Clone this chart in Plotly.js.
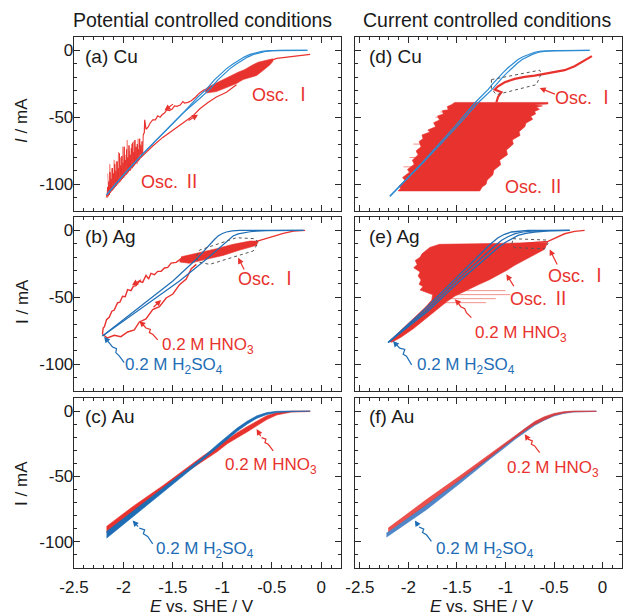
<!DOCTYPE html>
<html><head><meta charset="utf-8">
<script src="https://cdn.plot.ly/plotly-3.0.1.min.js"></script>
<style>html,body{margin:0;padding:0;background:#fff;}</style>
</head><body>
<div id="chart" style="width:624px;height:616px;"></div>
<script>
// ---------- Panel (a) Cu, potential controlled ----------
const aBlueFwdX = [-0.14,-0.40,-0.52,-0.60,-0.66,-0.72,-0.78,-0.84,-0.90,-0.96,-1.02,-1.08,-1.16,-1.25,-1.40,-1.60,-1.80,-2.00,-2.17];
const aBlueFwdY = [0,0,-0.2,-0.7,-1.6,-3,-5,-7.5,-10.5,-13.8,-17.6,-22,-29,-35,-47,-62,-77,-93,-108];
const aBlueRevX = [-2.17,-2.00,-1.80,-1.60,-1.40,-1.215,-1.125,-1.045,-0.985,-0.925,-0.865,-0.805,-0.745,-0.685,-0.625,-0.565,-0.485,-0.40,-0.14];
const aBlueRevY = [-108,-93,-77,-62,-47,-35,-29,-22,-17.6,-13.8,-10.5,-7.5,-5,-3,-1.6,-0.7,-0.2,0,0];
const aRedStartX = [-0.112,-0.315,-0.450,-0.501];
const aRedStartY = [-3.0,-4.8,-6.0,-7.3];
const aOsc1X = [-0.491,-0.569,-0.637,-0.704,-0.772,-0.840,-0.908,-0.976,-1.044,-1.128,-1.179,-1.162,-1.060,-0.993,-0.925,-0.857,-0.790,-0.722,-0.653,-0.585,-0.518,-0.485];
const aOsc1Y = [-6.3,-7.8,-8.8,-11.3,-14.3,-16.3,-18.8,-20.8,-23.3,-26.8,-29.3,-31.8,-30.8,-28.8,-27.3,-24.8,-21.8,-20.3,-18.8,-14.8,-10.8,-7.8];
const aRedCathX = [-1.179,-1.230,-1.270,-1.314,-1.348,-1.382,-1.399,-1.426,-1.460,-1.484,-1.507,-1.535,-1.562,-1.585,-1.609,-1.629,-1.653,-1.677,-1.704,-1.731,-1.751,-1.772,-1.785,-1.789,-1.800];
const aRedCathY = [-29.3,-31.8,-34.8,-37.6,-38.8,-39.3,-38.3,-40.8,-41.8,-41.4,-43.8,-44.9,-44.4,-46.8,-48.1,-49.9,-48.9,-51.9,-51.9,-54.4,-57.4,-58.9,-51.9,-61.4,-63.2];
const aOsc2X = [-1.800,-1.806,-1.812,-1.818,-1.824,-1.830,-1.836,-1.842,-1.848,-1.854,-1.860,-1.866,-1.872,-1.878,-1.884,-1.890,-1.896,-1.902,-1.908,-1.914,-1.920,-1.926,-1.932,-1.938,-1.944,-1.950,-1.956,-1.962,-1.968,-1.974,-1.980,-1.986,-1.992,-1.998,-2.004,-2.010,-2.016,-2.022,-2.028,-2.034,-2.040,-2.046,-2.052,-2.058,-2.064,-2.070,-2.076,-2.082,-2.088,-2.094,-2.100,-2.106,-2.112,-2.118,-2.124,-2.130,-2.136,-2.142,-2.148,-2.154,-2.160,-2.166,-2.170];
const aOsc2Y = [-63.2,-79,-68,-80,-71,-78,-66,-82,-74,-83,-70,-84,-72,-85,-67,-86,-76,-87,-69,-88,-73,-89,-78,-90,-71,-91,-80,-92,-74,-93,-82,-94,-72,-95,-84,-96,-79,-97,-86,-98,-77,-99,-88,-100,-83,-101,-90,-102,-85,-103,-92,-104,-88,-105,-96,-106,-91,-108,-98,-109,-102,-110,-108];
const aOsc2bX = [-1.830,-1.841,-1.852,-1.863,-1.874,-1.885,-1.896,-1.907,-1.918,-1.929,-1.940,-1.951,-1.962,-1.973,-1.984,-1.995,-2.006,-2.017,-2.028,-2.039,-2.050,-2.061,-2.072,-2.083,-2.094,-2.105,-2.116,-2.127,-2.138,-2.149,-2.160];
const aOsc2bY = [-70,-82,-66,-85,-73,-84,-68,-88,-70,-90,-75,-91,-67,-93,-78,-95,-72,-96,-80,-98,-76,-100,-83,-101,-82,-103,-88,-105,-85,-107,-92];
const aRedAnodX = [-2.158,-2.009,-1.839,-1.704,-1.602,-1.500,-1.433,-1.365,-1.297,-1.230,-1.145,-1.060,-0.959,-0.857];
const aRedAnodY = [-108.3,-94.0,-81.0,-71.4,-65.0,-59.4,-56.4,-52.6,-48.9,-43.8,-38.9,-34.8,-31.3,-25.6];

// ---------- Panel (b) Ag, potential controlled ----------
const bBlue1X = [-2.212,-1.839,-1.500,-1.263,-1.19,-1.128,-1.08,-1.043,-1.00,-0.959,-0.90,-0.823,-0.180];
const bBlue1Y = [-78.9,-57.7,-37.8,-21.6,-15.5,-10.4,-6.8,-4.2,-2.3,-1.2,-0.4,0,0];
const bBlue2X = [-2.212,-1.805,-1.433,-1.162,-1.07,-0.993,-0.94,-0.891,-0.84,-0.789,-0.72,-0.654,-0.55,-0.180];
const bBlue2Y = [-78.9,-57.7,-37.8,-21.6,-15.5,-10.4,-7.0,-4.2,-2.6,-1.7,-1.0,-0.5,-0.1,0];
const bRedTopX = [-0.163,-0.281,-0.383,-0.484,-0.586,-0.654];
const bRedTopY = [0,-0.5,-2.2,-4.7,-6.7,-8.2];
const bOsc1X = [-1.416,-1.230,-1.060,-0.891,-0.722,-0.637,-0.654,-0.823,-0.993,-1.162,-1.331,-1.433];
const bOsc1Y = [-19.7,-16.7,-13.7,-10.4,-8.0,-8.0,-11.2,-14.7,-18.7,-21.6,-24.6,-23.6];
const bRedCathX = [-1.416,-1.467,-1.518,-1.552,-1.585,-1.619,-1.653,-1.687,-1.722,-1.745,-1.772,-1.806,-1.839,-1.873,-1.900,-1.924,-1.958,-1.982,-2.009,-2.036,-2.060,-2.093,-2.117,-2.144,-2.171,-2.192,-2.205,-2.212];
const bRedCathY = [-21.1,-23.9,-24.4,-27.6,-28.1,-30.6,-30.6,-33.1,-32.1,-36.3,-33.6,-38.8,-38.1,-41.3,-41.8,-45.0,-44.3,-49.5,-49.2,-53.7,-54.2,-59.5,-60.4,-64.9,-66.7,-71.9,-72.9,-77.6];
const bRedAnodX = [-2.212,-2.161,-2.093,-2.026,-1.958,-1.890,-1.839,-1.772,-1.704,-1.636,-1.568,-1.500,-1.433,-1.365,-1.314,-1.263];
const bRedAnodY = [-77.6,-80.4,-78.4,-79.4,-75.9,-74.4,-68.4,-66.2,-59.2,-57.0,-50.5,-47.5,-40.5,-36.3,-28.6,-25.4];

// ---------- Panel (c) Au, potential controlled (band outlines) ----------
const cBlueX = [-2.171,-1.9,-1.6,-1.399,-1.2,-1.05,-0.95,-0.85,-0.75,-0.65,-0.55,-0.45,-0.3,-0.112,-0.112,-0.3,-0.45,-0.55,-0.65,-0.75,-0.85,-0.95,-1.05,-1.2,-1.399,-1.6,-1.9,-2.171];
const cBlueY = [-92.1,-76.3,-58.9,-47.2,-35.5,-25.5,-19,-13,-7.8,-3.6,-1.2,-0.2,0,0,-0.4,-0.5,-1.2,-2.6,-5.5,-10,-15.5,-21.5,-28,-37.5,-49.7,-62,-80,-97.2];
const cRedX = [-2.171,-1.9,-1.6,-1.399,-1.2,-1.05,-0.95,-0.85,-0.75,-0.65,-0.55,-0.45,-0.3,-0.112,-0.112,-0.3,-0.45,-0.55,-0.65,-0.75,-0.85,-0.95,-1.05,-1.2,-1.399,-1.6,-1.9,-2.171];
const cRedY = [-88.2,-72.7,-57,-45.4,-34.5,-27,-21.5,-16.5,-12,-7.5,-3.5,-1.2,0,0,-0.4,-0.8,-3.0,-6.5,-11.5,-16,-20.5,-25,-31,-38.5,-48.5,-60.5,-77,-92.8];

// ---------- Panel (d) Cu, current controlled ----------
const dBlueFwdX = [-0.134,-0.45,-0.55,-0.631,-0.70,-0.768,-0.82,-0.871,-0.92,-0.974,-1.025,-1.077,-1.13,-1.180,-1.317,-1.523,-1.865,-2.191];
const dBlueFwdY = [0,0,-0.1,-0.5,-1.4,-3.0,-4.7,-6.8,-9.6,-13.0,-16.6,-20.5,-24.8,-29.3,-39.3,-56.9,-84.4,-109.0];
const dBlueRevX = [-2.191,-1.855,-1.500,-1.285,-1.140,-1.090,-1.035,-0.982,-0.930,-0.878,-0.828,-0.778,-0.724,-0.658,-0.585,-0.50,-0.40,-0.134];
const dBlueRevY = [-109,-84.4,-56.9,-39.3,-29.3,-24.8,-20.5,-16.6,-13.0,-9.6,-6.8,-4.7,-3.0,-1.4,-0.5,-0.1,0,0];
const dRedTopX = [-0.110,-0.185,-0.288,-0.391,-0.494,-0.597,-0.700,-0.802,-0.905,-1.008,-1.077,-1.111,-1.042,-1.077,-1.094];
const dRedTopY = [-4.3,-7.3,-11.8,-14.8,-16.3,-17.3,-18.8,-19.8,-21.3,-23.8,-26.8,-29.3,-31.3,-34.8,-38.9];
const dOsc2X = [-1.557,-1.523,-0.563,-0.563,-0.70,-0.62,-0.682,-0.65,-0.70,-0.69,-0.74,-0.72,-0.79,-0.80,-0.86,-0.85,-0.93,-0.92,-0.99,-0.98,-1.06,-1.05,-1.12,-1.13,-1.19,-1.20,-1.24,-1.265,-2.106,-2.08,-2.10,-2.037,-2.06,-1.99,-2.01,-1.94,-1.96,-1.90,-1.92,-1.87,-1.89,-1.85,-1.86,-1.78,-1.80,-1.72,-1.74,-1.68,-1.70,-1.64,-1.65,-1.59,-1.60,-1.557];
const dOsc2Y = [-40.6,-38.9,-38.9,-40.0,-40.6,-41.5,-42.5,-44.0,-45.6,-47.5,-49.4,-51.5,-54.4,-57.0,-60.7,-63.5,-66.9,-70.0,-74.4,-78.0,-82.0,-85.5,-89.5,-93.0,-97.0,-100,-102.0,-105.0,-105.0,-103,-101.5,-97,-95,-91,-89,-85,-82,-78,-75,-72,-68,-66,-63.2,-61.0,-59.5,-57,-54,-52,-49,-47.5,-45,-44.4,-42,-40.6];
const dStreakX = [-1.95,-1.80,null,-1.92,-1.75,null,-1.99,-1.85,null,-1.72,-1.55,null,-1.67,-1.52,null,-2.05,-1.90];
const dStreakY = [-70,-70,null,-76,-76,null,-80,-80,null,-50,-50,null,-46,-46,null,-87,-87];

// ---------- Panel (e) Ag, current controlled ----------
const eBlue1X = [-2.209,-1.866,-1.523,-1.248,-1.16,-1.077,-1.01,-0.940,-0.86,-0.768,-0.340];
const eBlue1Y = [-83.8,-61.4,-36.6,-16.7,-10.6,-5.5,-2.9,-1.2,-0.4,0,0];
const eBlue2X = [-2.209,-1.797,-1.454,-1.180,-1.09,-1.008,-0.94,-0.871,-0.79,-0.700,-0.55,-0.340];
const eBlue2Y = [-83.8,-60.2,-36.6,-19.2,-13.7,-9.2,-6.2,-3.7,-2.2,-1.2,-0.3,0];
const eBlue3X = [-2.209,-1.83,-1.49,-1.214,-1.12,-1.04,-0.97,-0.90,-0.82,-0.73,-0.60,-0.340];
const eBlue3Y = [-83.8,-60.8,-36.6,-18.0,-12.2,-7.4,-4.5,-2.4,-1.2,-0.5,-0.1,0];
const eRedTopX = [-0.185,-0.288,-0.391,-0.494,-0.562,-0.700,-0.850,-0.950];
const eRedTopY = [0,-0.7,-2.5,-6.2,-8.2,-9.0,-9.8,-10.5];
const eOsc2X = [-1.78,-1.68,-1.30,-1.00,-0.75,-0.566,-0.60,-0.66,-0.75,-0.83,-0.905,-0.98,-1.06,-1.17,-1.27,-1.38,-1.52,-1.60,-1.72,-1.83,-1.95,-2.08,-2.17,-2.20,-2.10,-1.98,-1.90,-1.82,-1.76,-1.75,-1.88,-1.85,-1.89,-1.87,-1.90,-1.88,-1.945,-1.91,-1.93,-1.88,-1.86,-1.83,-1.78];
const eOsc2Y = [-12.7,-10.4,-10.0,-9.6,-9.2,-9.0,-14.2,-16.5,-20.1,-23.5,-26.1,-29.5,-32.8,-37.0,-40.3,-44.0,-49.0,-53.0,-60.0,-66.0,-73.5,-80.0,-83.5,-83.0,-76.0,-68.0,-62.5,-57.0,-52.0,-48.0,-44.5,-42.0,-40.3,-37.0,-34.0,-31.0,-28.0,-25.4,-22.5,-20.1,-17.5,-15.7,-12.7];
const eStreakX = [-1.50,-1.00,null,-1.55,-0.95,null,-1.60,-1.10,null,-1.65,-1.20];
const eStreakY = [-45,-45,null,-48,-48,null,-51,-51,null,-54,-54];

// ---------- Panel (f) Au, current controlled (band outlines) ----------
const fBlueX = [-2.226,-1.814,-1.471,-1.163,-1.0,-0.9,-0.8,-0.7,-0.6,-0.5,-0.4,-0.3,-0.065,-0.065,-0.3,-0.4,-0.5,-0.6,-0.7,-0.8,-0.9,-1.0,-1.163,-1.471,-1.814,-2.226];
const fBlueY = [-93.3,-71.5,-52.3,-34.4,-25,-19,-13.5,-8.5,-4.8,-2.2,-0.8,-0.2,0,-0.3,-0.8,-1.8,-3.8,-7,-11,-16,-21.5,-27.5,-36.9,-55.4,-75.4,-96.4];
const fRedX = [-2.208,-1.814,-1.471,-1.163,-1.0,-0.9,-0.8,-0.7,-0.6,-0.5,-0.4,-0.3,-0.065,-0.065,-0.3,-0.4,-0.5,-0.6,-0.7,-0.8,-0.9,-1.0,-1.163,-1.471,-1.814,-2.208];
const fRedY = [-89.5,-67.7,-49.7,-33.1,-24,-18.3,-13,-8,-4.3,-1.8,-0.5,0,0,-0.2,-0.6,-1.5,-3.3,-6.5,-10.2,-15,-20.3,-26,-35.6,-52.8,-71.5,-92.1];

// ---------- axis ticks ----------
const xTickVals = [-2.5,-2,-1.5,-1,-0.5,0];
const xTickText = ['-2.5','-2','-1.5','-1','-0.5','0'];
const yTickVals = [0,-50,-100];
const yTickText = ['0','-50','-100'];

// ---------- annotation geometry (decorations) ----------
const dashB = {x:[-1.263,-1.230,-0.857,-0.671,-0.637,-0.688,-1.128,-1.246,-1.263], y:[-19.2,-14.7,-5.5,-6.2,-9.2,-15.4,-25.4,-23.6,-19.2]};
const dashD = {x:[-1.145,-0.648,-0.631,-0.682,-1.094,-1.145,-1.145], y:[-21.8,-14.8,-17.3,-25.6,-33.1,-28.6,-21.8]};
const dashE = {x:[-0.922,-0.580,-0.562,-0.597,-0.905,-0.933,-0.922], y:[-6.2,-7.2,-9.7,-13.7,-12.9,-9.7,-6.2]};
const sqB_red = {x:[-1.653,-1.704,-1.738,-1.728,-1.772,-1.806,-1.839], y:[-81.8,-77.6,-76.4,-73.9,-72.9,-70.1,-67.7]};
const sqB_blue = {x:[-1.992,-2.043,-2.077,-2.070,-2.110,-2.161,-2.195], y:[-98.8,-93.8,-91.3,-88.3,-87.1,-82.6,-79.4]};
const sqC_red = {x:[-0.485,-0.536,-0.569,-0.559,-0.603,-0.653], y:[-30.5,-25.4,-24.1,-21.5,-20.3,-13.8]};
const sqC_blue = {x:[-1.704,-1.755,-1.799,-1.785,-1.839,-1.907], y:[-101.5,-95.9,-93.8,-90.8,-89.5,-83.6]};
const sqE_red = {x:[-1.351,-1.403,-1.420,-1.461,-1.488,-1.523], y:[-65.2,-61.4,-58.5,-57.0,-54.0,-51.5]};
const sqE_blue = {x:[-1.967,-2.020,-2.054,-2.037,-2.089,-2.130,-2.158], y:[-100.5,-94.0,-92.5,-89.0,-88.0,-85.0,-82.6]};
const sqF_red = {x:[-0.648,-0.700,-0.734,-0.724,-0.768,-0.802], y:[-31.8,-26.7,-25.4,-22.8,-21.5,-17.7]};
const sqF_blue = {x:[-1.763,-1.814,-1.855,-1.842,-1.890,-1.934], y:[-99.7,-94.6,-92.8,-90.3,-88.7,-83.6]};

const RED = '#e8322e', REDL = 'rgba(240,110,100,0.75)';
const BLUE_A = '#2d8bd2', BLUE_B = '#1f6eb6', BLUE_C = '#1d6cb4', BLUE_F = '#4f86c8';
const FONT = 'Liberation Sans, Arial, sans-serif';
const ROMAN = 'Liberation Sans, "Noto Sans CJK JP", sans-serif';

function L(x, y, k, color, w, extra) {
  return Object.assign({type:'scatter', mode:'lines', x:x, y:y, xaxis:'x'+k, yaxis:'y'+k,
    line:{color:color, width:w}, hoverinfo:'skip', showlegend:false}, extra||{});
}
function P(x, y, k, color) {
  return {type:'scatter', mode:'lines', x:x, y:y, xaxis:'x'+k, yaxis:'y'+k, fill:'toself',
    fillcolor:color, line:{color:color, width:0.6}, hoverinfo:'skip', showlegend:false};
}
const traces = [
  // (a)
  L(aOsc2bX, aOsc2bY, '', REDL, 0.9),
  L(aOsc2X, aOsc2Y, '', RED, 1),
  L(aRedCathX, aRedCathY, '', RED, 1.2),
  L(aRedAnodX, aRedAnodY, '', RED, 1.2),
  P(aOsc1X, aOsc1Y, '', RED),
  L(aRedStartX, aRedStartY, '', RED, 1.2),
  L(aBlueFwdX, aBlueFwdY, '', BLUE_A, 1.2),
  L(aBlueRevX, aBlueRevY, '', BLUE_A, 1.2),
  // (b)
  L(bRedTopX, bRedTopY, '2', RED, 1.2),
  P(bOsc1X, bOsc1Y, '2', RED),
  L(bRedCathX, bRedCathY, '2', RED, 1.4),
  L(bRedAnodX, bRedAnodY, '2', RED, 1.4),
  L(bBlue1X, bBlue1Y, '2', BLUE_B, 1.2),
  L(bBlue2X, bBlue2Y, '2', BLUE_B, 1.2),
  // (c)
  P(cRedX, cRedY, '3', RED),
  P(cBlueX, cBlueY, '3', BLUE_C),
  // (d)
  L(dStreakX, dStreakY, '4', REDL, 1),
  P(dOsc2X, dOsc2Y, '4', RED),
  L(dRedTopX, dRedTopY, '4', RED, 2.2),
  L(dBlueFwdX, dBlueFwdY, '4', BLUE_A, 1.2),
  L(dBlueRevX, dBlueRevY, '4', BLUE_A, 1.2),
  // (e)
  L(eStreakX, eStreakY, '5', REDL, 1),
  P(eOsc2X, eOsc2Y, '5', RED),
  L(eRedTopX, eRedTopY, '5', RED, 1.4),
  L(eBlue1X, eBlue1Y, '5', BLUE_B, 1.3),
  L(eBlue3X, eBlue3Y, '5', BLUE_B, 1.2),
  L(eBlue2X, eBlue2Y, '5', BLUE_B, 1.3),
  // (f)
  P(fBlueX, fBlueY, '6', BLUE_F),
  P(fRedX, fRedY, '6', 'rgba(232,50,46,0.85)')
];

function pathFrom(o, close) {
  let s = 'M ' + o.x[0] + ',' + o.y[0];
  for (let i = 1; i < o.x.length; i++) s += ' L ' + o.x[i] + ',' + o.y[i];
  return close ? s + ' Z' : s;
}
const shapes = [];
function dash(o, k) { shapes.push({type:'path', xref:'x'+k, yref:'y'+k, path:pathFrom(o,true), line:{color:'#555', width:1, dash:'dot'}}); }
dash(dashB,'2'); dash(dashD,'4'); dash(dashE,'5');

const annotations = [];
function arrow(k, tx, ty, hx, hy, color) {
  annotations.push({xref:'x'+k, yref:'y'+k, axref:'x'+k, ayref:'y'+k, x:hx, y:hy, ax:tx, ay:ty,
    text:'', showarrow:true, arrowhead:2, arrowsize:1, arrowwidth:1.2, arrowcolor:color});
}
function squiggle(o, k, color) {
  const n = o.x.length;
  shapes.push({type:'path', xref:'x'+k, yref:'y'+k, path:pathFrom({x:o.x.slice(0,n-1), y:o.y.slice(0,n-1)},false), line:{color:color, width:1.2}});
  arrow(k, o.x[n-2], o.y[n-2], o.x[n-1], o.y[n-1], color);
}
squiggle(sqB_red,'2',RED); squiggle(sqB_blue,'2',BLUE_B);
squiggle(sqC_red,'3',RED); squiggle(sqC_blue,'3',BLUE_C);
squiggle(sqE_red,'5',RED); squiggle(sqE_blue,'5',BLUE_B);
squiggle(sqF_red,'6',RED); squiggle(sqF_blue,'6',BLUE_C);
// direction arrows on curves
arrow('', -1.484, -39.3, -1.585, -44.9, RED);
arrow('', -1.357, -53.1, -1.246, -48.1, RED);
arrow('2', -1.806, -36.1, -1.914, -41.0, RED);
arrow('2', -1.711, -58.5, -1.619, -52.0, RED);
// label arrows
arrow('2', -0.772, -30.4, -0.840, -20.4, RED);
arrow('4', -0.476, -33.1, -0.648, -28.1, RED);
arrow('5', -0.460, -26.6, -0.545, -14.2, RED);
arrow('5', -0.905, -42.8, -0.991, -32.8, RED);

function txt(k, x, y, s, color, size, fam) {
  annotations.push({xref:'x'+k, yref:'y'+k, x:x, y:y, text:s, showarrow:false,
    font:{family:fam||FONT, size:size, color:color}, xanchor:'center', yanchor:'middle'});
}
const HNO3 = '0.2 M HNO<sub>3</sub>', H2SO4 = '0.2 M H<sub>2</sub>SO<sub>4</sub>';
txt('', -0.40, -33, 'Osc. Ⅰ', RED, 18, ROMAN);
txt('', -1.52, -98, 'Osc. Ⅱ', RED, 18, ROMAN);
txt('2', -0.535, -36.6, 'Osc. Ⅰ', RED, 18, ROMAN);
txt('2', -1.145, -86.3, HNO3, RED, 17);
txt('2', -1.484, -101.2, H2SO4, BLUE_B, 17);
txt('3', -0.503, -42.1, HNO3, RED, 17);
txt('3', -1.179, -106.2, H2SO4, BLUE_C, 17);
txt('4', -0.185, -35.6, 'Osc. Ⅰ', RED, 18, ROMAN);
txt('4', -0.700, -102, 'Osc. Ⅱ', RED, 18, ROMAN);
txt('5', -0.254, -34.1, 'Osc. Ⅰ', RED, 18, ROMAN);
txt('5', -0.648, -51.5, 'Osc. Ⅱ', RED, 18, ROMAN);
txt('5', -0.837, -77.6, HNO3, RED, 17);
txt('5', -1.402, -101.2, H2SO4, BLUE_B, 17);
txt('6', -0.511, -44.6, HNO3, RED, 17);
txt('6', -1.214, -106.2, H2SO4, BLUE_C, 17);

// panel labels
const panelLabels = ['(a) Cu','(b) Ag','(c) Au','(d) Cu','(e) Ag','(f) Au'];
const axKeys = ['','2','3','4','5','6'];
panelLabels.forEach((s,i)=>{
  annotations.push({xref:'x'+axKeys[i]+' domain', yref:'y'+axKeys[i]+' domain', x: i<3?0.033:0.045, y:0.89,
    text:s, showarrow:false, xanchor:'left', yanchor:'middle', font:{family:FONT, size:19, color:'#1a1a1a'}});
});
// column titles, axis titles
function ptxt(x, y, s, size, angle) {
  annotations.push({xref:'paper', yref:'paper', x:x, y:y, text:s, showarrow:false, textangle:angle||0,
    xanchor:'center', yanchor:'middle', font:{family:FONT, size:size, color:'#1a1a1a'}});
}
ptxt(0.2354, 1.032, 'Potential controlled conditions', 19.5);
ptxt(0.7536, 1.032, 'Current controlled conditions', 19.5);
ptxt(0.2336, -0.0716, '<i>E</i> vs. SHE / V', 17);
ptxt(0.745, -0.0716, '<i>E</i> vs. SHE / V', 17);
ptxt(-0.095, 0.8437, '<i>I</i> / mA', 17, -90);
ptxt(-0.095, 0.5028, 'I / mA', 17, -90);
ptxt(-0.095, 0.1601, 'I / mA', 17, -90);

function xax(dom, range, anchor, labels) {
  return {domain:dom, range:range, anchor:anchor, showline:true, linecolor:'#2a2a2a', linewidth:1.3, mirror:'ticks',
    ticks:'inside', ticklen:6, tickwidth:1, tickcolor:'#2a2a2a', tickmode:'array', tickvals:xTickVals, ticktext:xTickText,
    ticklabelstandoff:3,
    showgrid:false, zeroline:false, showticklabels:labels, tickfont:{family:FONT, size:17, color:'#1a1a1a'},
    minor:{tickmode:'linear', tick0:0, dtick:0.1, ticks:'inside', ticklen:3, tickwidth:1, tickcolor:'#2a2a2a', showgrid:false}};
}
function yax(dom, anchor, labels) {
  return {domain:dom, range:[-120,10], anchor:anchor, showline:true, linecolor:'#2a2a2a', linewidth:1.3, mirror:'ticks',
    ticks:'inside', ticklen:6, tickwidth:1, tickcolor:'#2a2a2a', tickmode:'array', tickvals:yTickVals, ticktext:yTickText,
    ticklabelstandoff:-4,
    showgrid:false, zeroline:false, showticklabels:labels, tickfont:{family:FONT, size:17, color:'#1a1a1a'},
    minor:{tickmode:'linear', tick0:0, dtick:10, ticks:'inside', ticklen:3, tickwidth:1, tickcolor:'#2a2a2a', showgrid:false}};
}
const xLdom = [0,0.4872], xRdom = [0.5128,1];
const rowA = [0.6723,1], rowB = [0.3333,0.6610], rowC = [0,0.3202];
const xL = [-2.5,0.2], xR = [-2.55,0.2];
const layout = {
  width:624, height:616, margin:{l:74, r:2, t:37, b:48}, paper_bgcolor:'#fff', plot_bgcolor:'#fff',
  font:{family:FONT, color:'#1a1a1a'}, showlegend:false,
  xaxis:xax(xLdom,xL,'y',false), yaxis:yax(rowA,'x',true),
  xaxis2:xax(xLdom,xL,'y2',false), yaxis2:yax(rowB,'x2',true),
  xaxis3:xax(xLdom,xL,'y3',true), yaxis3:yax(rowC,'x3',true),
  xaxis4:xax(xRdom,xR,'y4',false), yaxis4:yax(rowA,'x4',false),
  xaxis5:xax(xRdom,xR,'y5',false), yaxis5:yax(rowB,'x5',false),
  xaxis6:xax(xRdom,xR,'y6',true), yaxis6:yax(rowC,'x6',false),
  shapes:shapes, annotations:annotations
};
Plotly.newPlot('chart', traces, layout, {staticPlot:true, displayModeBar:false});
</script>
</body></html>
